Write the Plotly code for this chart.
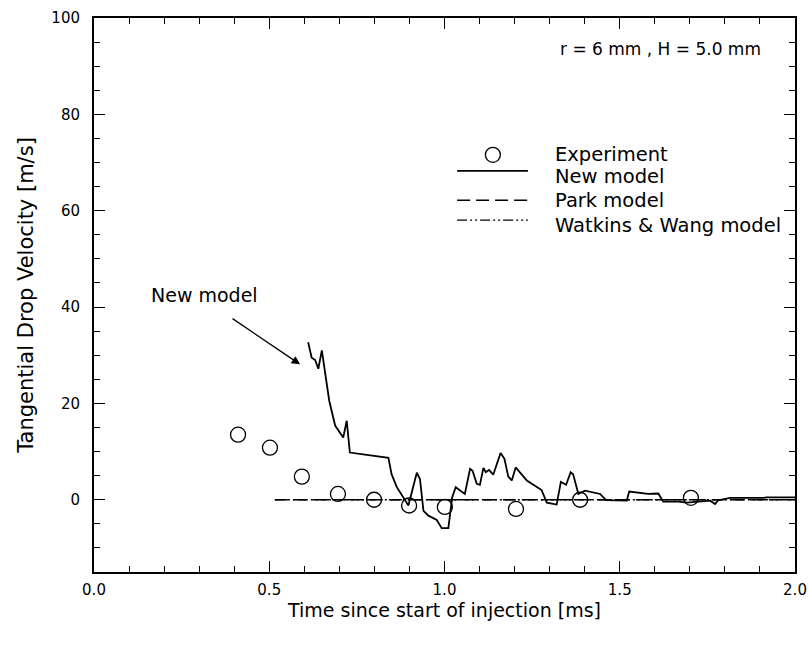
import plotly.graph_objects as go

# Measured drop velocities
exp_t = [0.411, 0.502, 0.593, 0.696, 0.799, 0.899, 1.001, 1.204, 1.387, 1.703]
exp_v = [13.5, 10.8, 4.8, 1.2, 0.0, -1.2, -1.5, -1.9, 0.0, 0.4]

# New model prediction
new_t = [0.611, 0.621, 0.631, 0.640, 0.650, 0.659, 0.671, 0.688, 0.711, 0.721,
         0.730, 0.840, 0.849, 0.864, 0.897, 0.921, 0.930, 0.940, 0.954, 0.978,
         0.992, 1.011, 1.022, 1.032, 1.058, 1.073, 1.080, 1.092, 1.101, 1.111,
         1.118, 1.127, 1.139, 1.160, 1.171, 1.182, 1.192, 1.203, 1.235, 1.277,
         1.292, 1.320, 1.332, 1.347, 1.360, 1.367, 1.382, 1.401, 1.444, 1.461,
         1.520, 1.527, 1.581, 1.610, 1.624, 1.667, 1.691, 1.758, 1.772, 1.781,
         1.815, 1.910, 1.919, 2.000]
new_v = [32.7, 29.5, 29.0, 27.2, 31.0, 26.1, 20.6, 15.4, 12.9, 16.4,
         9.8, 8.7, 5.3, 2.6, -1.2, 5.6, 4.3, -2.3, -3.3, -4.2,
         -5.9, -5.9, 0.5, 2.6, 1.2, 6.4, 6.0, 3.3, 3.1, 6.6,
         5.7, 6.2, 5.2, 9.7, 8.5, 4.8, 4.0, 6.7, 4.0, 2.0,
         -0.6, -1.0, 3.7, 3.1, 5.7, 5.3, 1.2, 1.9, 1.2, -0.1,
         -0.2, 1.7, 1.2, 1.3, -0.4, -0.4, -0.6, -0.2, -0.9, -0.1,
         0.4, 0.4, 0.5, 0.5]

# Park model and Watkins & Wang model (both stay at zero)
park_t = [0.516, 2.0]
park_v = [0.0, 0.0]
ww_t = [0.516, 2.0]
ww_v = [0.0, 0.0]

legend_names = ["Experiment", "New model", "Park model", "Watkins & Wang model"]

FONT = "DejaVu Sans"
MARKER = dict(symbol="circle-open", size=15, color="black",
              line=dict(width=1.3, color="black"))
NEW_LINE = dict(color="black", width=1.8)
PARK_LINE = dict(color="black", width=1.3, dash="13px,6px")
WW_LINE = dict(color="black", width=1.3, dash="10px,3px,2px,3px,2px,3px")

fig = go.Figure()
fig.add_trace(go.Scatter(x=exp_t, y=exp_v, mode="markers",
                         name=legend_names[0], marker=MARKER))
fig.add_trace(go.Scatter(x=new_t, y=new_v, mode="lines",
                         name=legend_names[1], line=NEW_LINE))
fig.add_trace(go.Scatter(x=park_t, y=park_v, mode="lines",
                         name=legend_names[2], line=PARK_LINE))
fig.add_trace(go.Scatter(x=ww_t, y=ww_v, mode="lines",
                         name=legend_names[3], line=WW_LINE))

axis_common = dict(
    showline=True, linecolor="black", linewidth=2, mirror="ticks",
    ticks="inside", ticklen=11, tickwidth=1.2, tickcolor="black",
    showgrid=False, zeroline=False, tickmode="linear",
    tickfont=dict(family=FONT, size=15, color="black"),
)

fig.update_xaxes(
    range=[0, 2.0], tick0=0, dtick=0.5, tickformat=".1f",
    minor=dict(tick0=0, dtick=0.1, ticks="inside", ticklen=6, tickwidth=1.2,
               tickcolor="black", showgrid=False),
    title=dict(text="Time since start of injection [ms]",
               font=dict(family=FONT, size=19, color="black"), standoff=5),
    ticklabelstandoff=3, automargin="bottom",
    **axis_common,
)
fig.update_yaxes(
    range=[-15, 100], tick0=0, dtick=20,
    minor=dict(tick0=0, dtick=5, ticks="inside", ticklen=6, tickwidth=1.2,
               tickcolor="black", showgrid=False),
    title=dict(text="Tangential Drop Velocity [m/s]",
               font=dict(family=FONT, size=21, color="black"), standoff=12),
    ticklabelstandoff=9, automargin=False,
    **axis_common,
)

# Pointer from the label to the start of the New model curve
fig.add_annotation(
    x=0.588, y=28.1, ax=0.391, ay=37.8, axref="x", ayref="y",
    text="", showarrow=True, arrowhead=2, arrowsize=1.3, arrowwidth=1.3,
    arrowcolor="black",
)
fig.add_annotation(
    x=0.314, y=42.4, text="New model", showarrow=False,
    font=dict(family=FONT, size=19, color="black"),
)
fig.add_annotation(
    x=1.909, y=93.6, text="r = 6 mm , H = 5.0 mm", showarrow=False,
    xanchor="right", font=dict(family=FONT, size=17, color="black"),
)

# Key block: sample symbols on the left, labels on the right (paper coords)
key_x0, key_x1, key_xc, key_tx = 0.518, 0.619, 0.569, 0.655
key_text_y = [0.753, 0.713, 0.670, 0.626]
key_line_y = [None, 0.724, 0.671, 0.635]
key_styles = [None, NEW_LINE, PARK_LINE, WW_LINE]

fig.add_shape(
    type="circle", xref="paper", yref="paper",
    xsizemode="pixel", ysizemode="pixel",
    xanchor=key_xc, yanchor=key_text_y[0],
    x0=-7.5, x1=7.5, y0=-7.5, y1=7.5,
    line=dict(color="black", width=1.3), fillcolor="rgba(0,0,0,0)",
)
for ly, style in zip(key_line_y[1:], key_styles[1:]):
    fig.add_shape(
        type="line", xref="paper", yref="paper",
        x0=key_x0, x1=key_x1, y0=ly, y1=ly,
        line=dict(color=style["color"], width=style["width"],
                  dash=style.get("dash", "solid")),
    )
for ty, name in zip(key_text_y, legend_names):
    fig.add_annotation(
        xref="paper", yref="paper", x=key_tx, y=ty, text=name,
        showarrow=False, xanchor="left", yanchor="middle",
        font=dict(family=FONT, size=19.5, color="black"),
    )

fig.update_layout(
    width=809, height=647,
    margin=dict(l=94, r=14, t=18, b=75),
    paper_bgcolor="white", plot_bgcolor="white",
    font=dict(family=FONT, color="black"),
    showlegend=False,
)

fig.write_html("out.html")
